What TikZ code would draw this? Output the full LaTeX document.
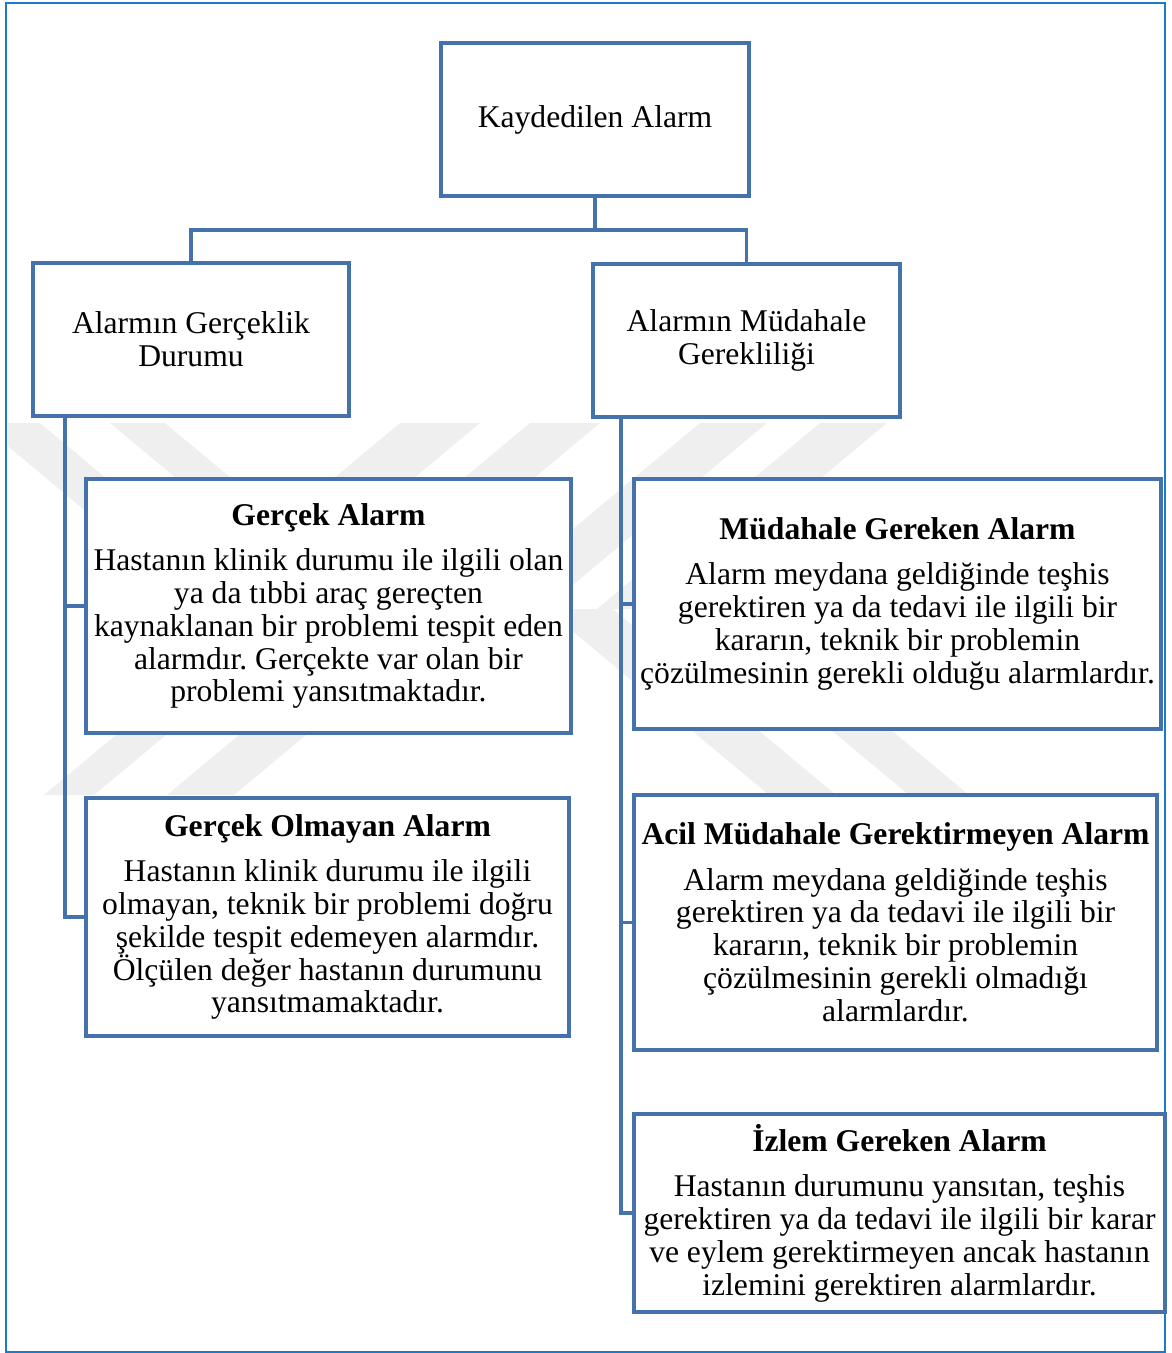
\documentclass[tikz,border=0pt]{standalone}
\usepackage{fontspec}
\setmainfont{Liberation Serif}
\definecolor{boxblue}{HTML}{4672AC}
\definecolor{frameblue}{HTML}{1A7BCB}
\definecolor{wmgray}{HTML}{EFEFEF}

\begin{document}
\begin{tikzpicture}[x=0.02cm,y=-0.02cm,
  box/.style={draw=boxblue,line width=2.2pt,fill=white,align=center,
    inner sep=0pt,outer sep=0pt,font=\fontsize{18}{18.7}\selectfont\frenchspacing},
  link/.style={draw=boxblue,line width=2.2pt}]
\useasboundingbox (0,0) rectangle (1171,1353);
\draw[frameblue,line width=1.1pt] (6,3) rectangle (1165,1352);

% Watermark
\begin{scope}
\clip (8,423) rectangle (1163,795);
\fill[wmgray] (-20,423) -- (40,423) -- (263,609) -- (203,609) -- cycle;
\fill[wmgray] (110,423) -- (165,423) -- (388,609) -- (333,609) -- cycle;
\fill[wmgray] (400,423) -- (480,423) -- (257,609) -- (177,609) -- cycle;
\fill[wmgray] (530,423) -- (600,423) -- (377,609) -- (307,609) -- cycle;
\fill[wmgray] (700,423) -- (767,423) -- (544,609) -- (477,609) -- cycle;
\fill[wmgray] (820,423) -- (887,423) -- (664,609) -- (597,609) -- cycle;
\fill[wmgray] (44,795) -- (94,795) -- (317,609) -- (267,609) -- cycle;
\fill[wmgray] (167,795) -- (234,795) -- (457,609) -- (390,609) -- cycle;
\fill[wmgray] (769,795) -- (836,795) -- (613,609) -- (546,609) -- cycle;
\fill[wmgray] (909,795) -- (969,795) -- (746,609) -- (686,609) -- cycle;
\end{scope}

% Top levels
\node[box,minimum width=6.16cm,minimum height=3.06cm] (root) at (595,119.5) {Kaydedilen Alarm};
\node[box,minimum width=6.32cm,minimum height=3.06cm] (gcl) at (191,339.5) {Alarmın Gerçeklik\\Durumu};
\node[box,minimum width=6.14cm,minimum height=3.06cm] (mgr) at (746.5,340.5) {Alarmın Müdahale\\Gerekliliği};

% Left branch
\node[box,minimum width=9.70cm,minimum height=5.08cm] (ga) at (328.5,606) {\textbf{Gerçek Alarm}\\[7pt]
  Hastanın klinik durumu ile ilgili olan\\ya da tıbbi araç gereçten\\kaynaklanan bir problemi tespit eden\\
  alarmdır. Gerçekte var olan bir\\problemi yansıtmaktadır.};
\node[box,minimum width=9.66cm,minimum height=4.76cm] (goa) at (327.5,917) {\textbf{Gerçek Olmayan Alarm}\\[7pt]
  Hastanın klinik durumu ile ilgili\\olmayan, teknik bir problemi doğru\\şekilde tespit edemeyen alarmdır.\\
  Ölçülen değer hastanın durumunu\\yansıtmamaktadır.};

% Right branch
\node[box,minimum width=10.54cm,minimum height=5.00cm] (mga) at (897.5,604) {\textbf{Müdahale Gereken Alarm}\\[7pt]
  Alarm meydana geldiğinde teşhis\\gerektiren ya da tedavi ile ilgili bir\\kararın, teknik bir problemin\\
  çözülmesinin gerekli olduğu alarmlardır.};
\node[box,minimum width=10.46cm,minimum height=5.10cm] (acil) at (895.5,922.5) {\textbf{Acil Müdahale Gerektirmeyen Alarm}\\[7pt]
  Alarm meydana geldiğinde teşhis\\gerektiren ya da tedavi ile ilgili bir\\kararın, teknik bir problemin\\
  çözülmesinin gerekli olmadığı\\alarmlardır.};
\node[box,minimum width=10.62cm,minimum height=3.96cm] (izlem) at (899.5,1213) {\textbf{İzlem Gereken Alarm}\\[7pt]
  Hastanın durumunu yansıtan, teşhis\\gerektiren ya da tedavi ile ilgili bir karar\\ve eylem gerektirmeyen ancak hastanın\\
  izlemini gerektiren alarmlardır.};

% Connectors
\coordinate (split) at (595,230);
\draw[link] (root.south) -- (split) -| (gcl.north);
\draw[link] (split) -| (mgr.north);
\draw[link] ([xshift=0.64cm]gcl.south west) |- (ga.west);
\draw[link] ([xshift=0.64cm]gcl.south west) |- (goa.west);
\draw[link] ([xshift=0.56cm]mgr.south west) |- (mga.west);
\draw[link] ([xshift=0.56cm]mgr.south west) |- (acil.west);
\draw[link] ([xshift=0.56cm]mgr.south west) |- (izlem.west);

\end{tikzpicture}
\end{document}
